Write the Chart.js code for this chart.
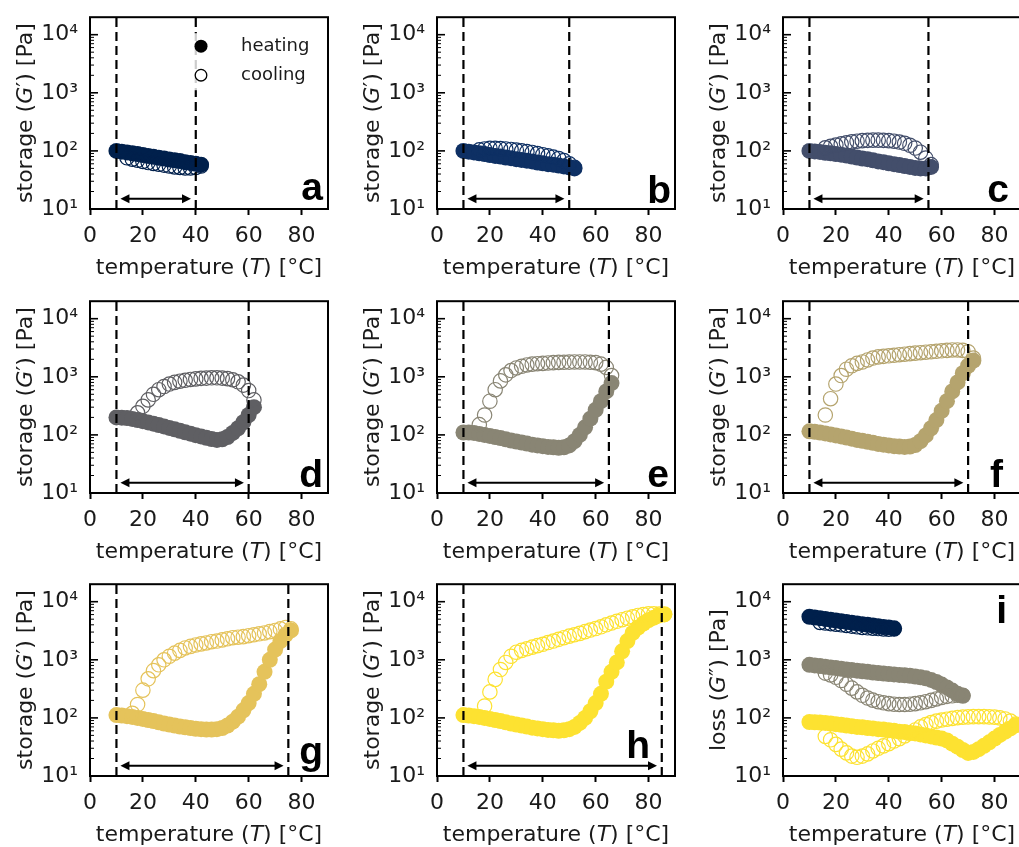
<!DOCTYPE html>
<html><head><meta charset="utf-8">
<script src="https://cdn.jsdelivr.net/npm/chart.js@4.4.1/dist/chart.umd.min.js"></script>
<style>
html,body{margin:0;padding:0;background:#fff;overflow:hidden;}
#wrap{position:relative;width:1019px;height:847px;overflow:hidden;background:#fff;}
canvas{position:absolute;}
</style></head><body><div id="wrap"></div>
<script>
// ---------- axis ticks ----------
const xTickValues = [0, 20, 40, 60, 80];
const yTickValues = [10, 100, 1000, 10000];
const yTickLabels = ['10¹', '10²', '10³', '10⁴'];
const yMinorValues = [20,30,40,50,60,70,80,90,200,300,400,500,600,700,800,900,2000,3000,4000,5000,6000,7000,8000,9000];
const xRange = [0, 90];
const yRange = [10, 20000];
const arrowLevel = 15;

// ---------- panel a (ramp to 40 °C) ----------
const tHeatA = [10,12,14,16,18,20,22,24,26,28,30,32,34,36,38,40,42];
const gHeatA = [100,97,94,91,88,85,82,79,76,74,71,69,67,64,62,60,58];
const tCoolA = [42,40,38,36,34,32,30,28,26,24,22,20,18,16,14];
const gCoolA = [55,52,51,51,52,53,55,57,59,61,63,66,69,72,76];

// ---------- panel b (50 °C) ----------
const tHeatB = [10,12,14,16,18,20,22,24,26,28,30,32,34,36,38,40,42,44,46,48,50,52];
const gHeatB = [100,97,94,91,88,85,82,80,77,75,72,70,68,66,63,61,59,58,56,54,52,50];
const tCoolB = [52,50,48,46,44,42,40,38,36,34,32,30,28,26,24,22,20,18,16];
const gCoolB = [52,60,68,74,78,82,86,90,94,97,100,103,106,108,110,111,111,108,104];

// ---------- panel c (55 °C) ----------
const tHeatC = [10,12,14,16,18,20,22,24,26,28,30,32,34,36,38,40,42,44,46,48,50,52,54,56];
const gHeatC = [100,98,96,93,91,88,86,83,80,77,74,72,69,66,64,61,59,57,55,53,51,50,50,53];
const tCoolC = [56,54,52,50,48,46,44,42,40,38,36,34,32,30,28,26,24,22,20,18,16];
const gCoolC = [58,75,95,112,125,135,142,147,150,152,153,153,152,150,147,143,138,132,126,120,113];

// ---------- panel d (60 °C) ----------
const tHeatD = [10,12,14,16,18,20,22,24,26,28,30,32,34,36,38,40,42,44,46,48,50,52,54,56,58,60,62];
const gHeatD = [200,198,195,188,180,172,164,156,148,140,132,125,118,111,105,99,94,89,85,82,84,92,108,130,165,220,300];
const tCoolD = [62,60,58,56,54,52,50,48,46,44,42,40,38,36,34,32,30,28,26,24,22,20,18];
const gCoolD = [400,580,720,820,890,930,950,960,960,950,940,920,900,870,840,800,750,680,600,500,400,310,240];

// ---------- panel e (65 °C) ----------
const tHeatE = [10,12,14,16,18,20,22,24,26,28,30,32,34,36,38,40,42,44,46,48,50,52,54,56,58,60,62,64,66];
const gHeatE = [110,110,108,104,100,96,92,88,84,80,77,74,71,68,66,64,62,61,60,61,66,78,100,135,190,270,380,560,780];
const tCoolE = [66,64,62,60,58,56,54,52,50,48,46,44,42,40,38,36,34,32,30,28,26,24,22,20,18,16];
const gCoolE = [1050,1450,1650,1750,1780,1800,1800,1800,1790,1780,1770,1750,1730,1700,1680,1650,1600,1520,1420,1280,1080,850,600,380,220,150];

// ---------- panel f (70 °C) ----------
const tHeatF = [10,12,14,16,18,20,22,24,26,28,30,32,34,36,38,40,42,44,46,48,50,52,54,56,58,60,62,64,66,68,70,72];
const gHeatF = [115,113,110,106,102,98,94,90,86,82,79,76,73,70,68,66,64,63,62,63,67,78,98,130,180,260,380,560,800,1150,1550,1900];
const tCoolF = [72,70,68,66,64,62,60,58,56,54,52,50,48,46,44,42,40,38,36,34,32,30,28,26,24,22,20,18,16];
const gCoolF = [2100,2700,2850,2900,2900,2850,2800,2750,2700,2650,2600,2550,2500,2450,2400,2350,2300,2250,2200,2100,1950,1800,1700,1550,1350,1050,750,420,220];

// ---------- panel g (75 °C) ----------
const tHeatG = [10,12,14,16,18,20,22,24,26,28,30,32,34,36,38,40,42,44,46,48,50,52,54,56,58,60,62,64,66,68,70,72,74,76];
const gHeatG = [112,110,107,104,100,96,92,88,84,80,77,74,71,69,67,65,64,63,63,64,67,74,86,105,135,180,260,380,620,1000,1500,2100,2700,3200];
const tCoolG = [76,74,72,70,68,66,64,62,60,58,56,54,52,50,48,46,44,42,40,38,36,34,32,30,28,26,24,22,20,18,16];
const gCoolG = [3400,3600,3400,3200,3050,2900,2800,2700,2600,2500,2450,2400,2300,2200,2100,2050,1950,1880,1800,1700,1600,1450,1300,1150,1000,820,650,470,300,170,120];

// ---------- panel h (85 °C) ----------
const tHeatH = [10,12,14,16,18,20,22,24,26,28,30,32,34,36,38,40,42,44,46,48,50,52,54,56,58,60,62,64,66,68,70,72,74,76,78,80,82,84,86];
const gHeatH = [112,110,107,104,100,96,92,88,84,80,77,74,71,68,66,64,62,61,60,61,64,70,82,100,130,180,260,420,620,900,1400,2100,2900,3600,4200,4800,5300,5800,6100];
const tCoolH = [86,84,82,80,78,76,74,72,70,68,66,64,62,60,58,56,54,52,50,48,46,44,42,40,38,36,34,32,30,28,26,24,22,20,18];
const gCoolH = [6000,6100,6200,6200,6000,5800,5500,5200,4900,4600,4300,4000,3700,3450,3250,3050,2850,2700,2550,2400,2250,2100,1980,1850,1750,1650,1550,1450,1350,1150,900,680,460,280,160];

// ---------- panel i (loss modulus) ----------
const tHeatI1 = [10,12,14,16,18,20,22,24,26,28,30,32,34,36,38,40,42];
const gHeatI1 = [5500,5350,5200,5050,4900,4750,4600,4480,4350,4230,4110,4000,3890,3780,3680,3580,3480];
const tCoolI1 = [42,40,38,36,34,32,30,28,26,24,22,20,18,16,14];
const gCoolI1 = [3400,3350,3400,3450,3500,3550,3600,3700,3800,3900,4000,4100,4200,4300,4400];
const tHeatI2 = [10,12,14,16,18,20,22,24,26,28,30,32,34,36,38,40,42,44,46,48,50,52,54,56,58,60,62,64,66,68];
const gHeatI2 = [820,800,780,760,740,720,700,680,665,650,635,620,605,590,580,570,560,550,540,530,515,500,480,450,415,375,335,295,260,240];
const tCoolI2 = [68,66,64,62,60,58,56,54,52,50,48,46,44,42,40,38,36,34,32,30,28,26,24,22,20,18,16];
const gCoolI2 = [245,245,240,235,225,212,200,190,182,176,172,170,170,172,176,182,190,202,220,245,280,325,380,440,500,550,590];
const tHeatI3 = [10,12,14,16,18,20,22,24,26,28,30,32,34,36,38,40,42,44,46,48,50,52,54,56,58,60,62,64,66,68,70,72,74,76,78,80,82,84,86,88];
const gHeatI3 = [85,84,83,82,80,78,76,74,72,70,69,67,66,64,63,61,60,58,57,55,54,52,50,48,46,44,41,36,32,28,25,26,29,33,38,44,51,58,66,75];
const tCoolI3 = [88,86,84,82,80,78,76,74,72,70,68,66,64,62,60,58,56,54,52,50,48,46,44,42,40,38,36,34,32,30,28,26,24,22,20,18,16];
const gCoolI3 = [78,88,96,100,103,104,105,105,105,104,103,101,98,95,92,88,83,77,70,62,55,49,44,40,36,33,30,27,24,22,21,22,25,29,35,42,48];

// ---------- colours / ramp maxima ----------
const rampMax = {a:40, b:50, c:55, d:60, e:65, f:70, g:75, h:85};
const colors = {a:'#00204c', b:'#0e3064', c:'#434e6b', d:'#5f5f63', e:'#898574', f:'#b5a46e', g:'#e5c35b', h:'#fde231'};

// ---------- layout (pixels) ----------
const colLeft = [0, 347, 693];
const rowTop = [0, 284, 567];
const FONT = "'DejaVu Sans', sans-serif";
const TXT = '#1a1a1a';

const storageTitle = [{t:'storage (', i:false},{t:'G', i:true},{t:'′) [Pa]', i:false}];
const lossTitle = [{t:'loss (', i:false},{t:'G', i:true},{t:'″) [Pa]', i:false}];
const xTitle = [{t:'temperature (', i:false},{t:'T', i:true},{t:') [°C]', i:false}];

const panels = [
  {k:'a', col:0, row:0, series:[[tHeatA,gHeatA,tCoolA,gCoolA,colors.a]], ldx:-5, ldy:-9, legend:true},
  {k:'b', col:1, row:0, series:[[tHeatB,gHeatB,tCoolB,gCoolB,colors.b]], ldx:-4, ldy:-6},
  {k:'c', col:2, row:0, series:[[tHeatC,gHeatC,tCoolC,gCoolC,colors.c]], ldx:-12, ldy:-7},
  {k:'d', col:0, row:1, series:[[tHeatD,gHeatD,tCoolD,gCoolD,colors.d]], ldx:-5, ldy:-6},
  {k:'e', col:1, row:1, series:[[tHeatE,gHeatE,tCoolE,gCoolE,colors.e]], ldx:-6, ldy:-6},
  {k:'f', col:2, row:1, series:[[tHeatF,gHeatF,tCoolF,gCoolF,colors.f]], ldx:-18, ldy:-6},
  {k:'g', col:0, row:2, series:[[tHeatG,gHeatG,tCoolG,gCoolG,colors.g]], ldx:-5, ldy:-12},
  {k:'h', col:1, row:2, series:[[tHeatH,gHeatH,tCoolH,gCoolH,colors.h]], ldx:-25, ldy:-18},
  {k:'i', col:2, row:2, series:[[tHeatI1,gHeatI1,tCoolI1,gCoolI1,colors.a],[tHeatI2,gHeatI2,tCoolI2,gCoolI2,colors.e],[tHeatI3,gHeatI3,tCoolI3,gCoolI3,colors.h]], ldx:-14, ldy:39, top:true, loss:true}
];

function zip(xs, ys) { return xs.map((x, j) => ({x: x, y: ys[j]})); }

function drawRich(ctx, parts, cx, cy, rot) {
  ctx.save();
  ctx.translate(cx, cy);
  if (rot) ctx.rotate(-Math.PI / 2);
  const fonts = parts.map(p => (p.i ? 'italic ' : '') + '22px ' + FONT);
  const widths = parts.map((p, j) => { ctx.font = fonts[j]; return ctx.measureText(p.t).width; });
  let x = -widths.reduce((s, w) => s + w, 0) / 2;
  ctx.textAlign = 'left'; ctx.textBaseline = 'middle'; ctx.fillStyle = TXT;
  parts.forEach((p, j) => { ctx.font = fonts[j]; ctx.fillText(p.t, x, 0); x += widths[j]; });
  ctx.restore();
}

const deco = {
  id: 'deco',
  afterDatasetsDraw(chart, args, o) {
    const ctx = chart.ctx, a = chart.chartArea, xs = chart.scales.x, ys = chart.scales.y;
    ctx.save();
    // double arrow showing the temperature ramp
    if (o.arrow) {
      const x1 = xs.getPixelForValue(o.arrow[0]), x2 = xs.getPixelForValue(o.arrow[1]);
      const y = ys.getPixelForValue(arrowLevel);
      const h = 9, w = 4.5;
      ctx.strokeStyle = '#000'; ctx.fillStyle = '#000'; ctx.lineWidth = 2.2;
      ctx.beginPath(); ctx.moveTo(x1 + h - 1, y); ctx.lineTo(x2 - h + 1, y); ctx.stroke();
      ctx.beginPath(); ctx.moveTo(x1, y); ctx.lineTo(x1 + h, y - w); ctx.lineTo(x1 + h, y + w); ctx.closePath(); ctx.fill();
      ctx.beginPath(); ctx.moveTo(x2, y); ctx.lineTo(x2 - h, y - w); ctx.lineTo(x2 - h, y + w); ctx.closePath(); ctx.fill();
    }
    // legend
    if (o.legend) {
      ctx.fillStyle = 'rgba(255,255,255,0.8)';
      ctx.fillRect(a.left + 96, a.top + 16, 136, 57);
      ctx.fillStyle = '#000';
      ctx.beginPath(); ctx.arc(a.left + 111, a.top + 29, 6.5, 0, Math.PI * 2); ctx.fill();
      ctx.fillStyle = '#fff'; ctx.strokeStyle = '#000'; ctx.lineWidth = 1.3;
      ctx.beginPath(); ctx.arc(a.left + 111, a.top + 58, 5.8, 0, Math.PI * 2); ctx.fill(); ctx.stroke();
      ctx.fillStyle = TXT; ctx.font = '18px ' + FONT; ctx.textAlign = 'left'; ctx.textBaseline = 'middle';
      ctx.fillText('heating', a.left + 151, a.top + 29);
      ctx.fillText('cooling', a.left + 151, a.top + 58);
    }
    // y ticks (inward), major + minor
    ctx.strokeStyle = '#000';
    ctx.lineWidth = 1;
    yMinorValues.forEach(v => {
      const y = ys.getPixelForValue(v);
      ctx.beginPath(); ctx.moveTo(a.left, y); ctx.lineTo(a.left + 4, y); ctx.stroke();
    });
    ctx.lineWidth = 1.6;
    yTickValues.forEach(v => {
      const y = ys.getPixelForValue(v);
      ctx.beginPath(); ctx.moveTo(a.left, y); ctx.lineTo(a.left + 8, y); ctx.stroke();
    });
    // frame
    ctx.lineWidth = 2; ctx.strokeStyle = '#000';
    ctx.strokeRect(a.left, a.top, a.right - a.left, a.bottom - a.top);
    // panel letter
    ctx.fillStyle = '#000';
    ctx.font = "bold 39px 'Liberation Sans', Arial, sans-serif";
    ctx.textAlign = 'right'; ctx.textBaseline = 'alphabetic';
    ctx.fillText(o.letter, a.right + o.ldx, o.top ? a.top + o.ldy : a.bottom + o.ldy);
    // axis titles
    drawRich(ctx, o.ytitle, a.left - 64, (a.top + a.bottom) / 2, true);
    drawRich(ctx, xTitle, (a.left + a.right) / 2, a.bottom + 59, false);
    ctx.restore();
  }
};

const wrap = document.getElementById('wrap');
panels.forEach(p => {
  const cv = document.createElement('canvas');
  cv.width = 340; cv.height = 285;
  cv.style.width = '340px'; cv.style.height = '285px';
  cv.style.left = colLeft[p.col] + 'px'; cv.style.top = rowTop[p.row] + 'px';
  wrap.appendChild(cv);

  const datasets = [];
  const tmax = rampMax[p.k];
  if (tmax) {
    [10, tmax].forEach(t => datasets.push({
      label: 'limit', data: [{x: t, y: yRange[0]}, {x: t, y: yRange[1]}],
      showLine: true, borderColor: '#000', borderWidth: 2.2, borderDash: [9, 5],
      pointRadius: 0, order: 0, clip: 0
    }));
  }
  p.series.forEach(s => {
    datasets.push({
      label: 'cooling', data: zip(s[2], s[3]),
      pointRadius: 7.2, pointBackgroundColor: 'rgba(255,255,255,0)', pointBorderColor: s[4], pointBorderWidth: 1.2,
      order: 1, clip: 0
    });
    datasets.push({
      label: 'heating', data: zip(s[0], s[1]),
      pointRadius: 8, pointBackgroundColor: s[4], pointBorderColor: s[4], pointBorderWidth: 0,
      order: 2, clip: 0
    });
  });

  new Chart(cv, {
    type: 'scatter',
    data: {datasets: datasets},
    plugins: [deco],
    options: {
      responsive: false, animation: false, devicePixelRatio: 1, events: [],
      layout: {padding: {top: 14, right: 12, left: 0, bottom: 0}},
      plugins: {
        legend: {display: false}, tooltip: {enabled: false},
        deco: {
          letter: p.k, ldx: p.ldx, ldy: p.ldy, top: !!p.top, legend: !!p.legend,
          arrow: tmax ? [11.5, tmax - 1.8] : null,
          ytitle: p.loss ? lossTitle : storageTitle
        }
      },
      scales: {
        x: {
          type: 'linear', position: 'bottom', min: xRange[0], max: xRange[1],
          afterBuildTicks: s => { s.ticks = xTickValues.map(v => ({value: v})); },
          afterFit: s => { s.height = 76; },
          grid: {drawOnChartArea: false, drawTicks: true, tickLength: 6, tickWidth: 2, tickColor: '#000'},
          border: {display: false},
          ticks: {font: {family: FONT, size: 22}, color: TXT, padding: 8, maxRotation: 0, autoSkip: false}
        },
        y: {
          type: 'logarithmic', position: 'left', min: yRange[0], max: yRange[1],
          afterBuildTicks: s => { s.ticks = yTickValues.map(v => ({value: v})); },
          afterFit: s => { s.width = 90; },
          grid: {display: false},
          border: {display: false},
          ticks: {
            font: {family: FONT, size: 22}, color: TXT, padding: 4, autoSkip: false,
            callback: v => yTickLabels[yTickValues.indexOf(v)]
          }
        }
      }
    }
  });
});
</script>
</body></html>
